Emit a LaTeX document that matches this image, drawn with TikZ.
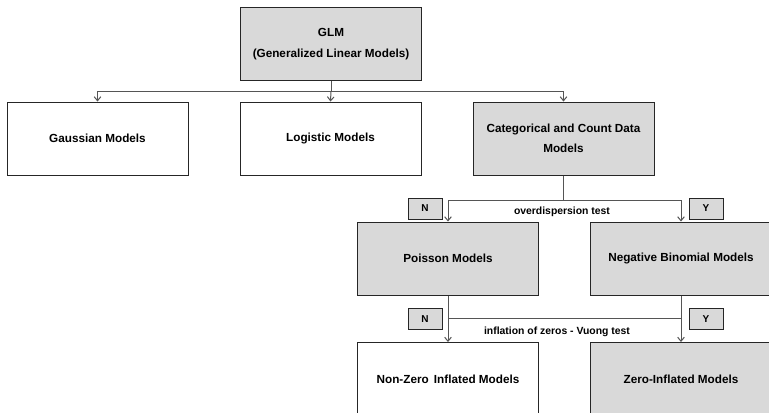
\documentclass[tikz,border=0pt]{standalone}
\usepackage{fontspec}
\setmainfont{Liberation Sans}
\usetikzlibrary{arrows.meta}
\definecolor{boxgray}{HTML}{D9D9D9}
\definecolor{linegray}{HTML}{555555}
\tikzset{
  base/.style={draw=black!85, line width=0.75pt, align=center, inner sep=0pt,
    font=\fontsize{8.8}{16}\selectfont\bfseries},
  bigbox/.style={base, minimum width=135.75pt, minimum height=54.75pt},
  whitebox/.style={bigbox, fill=white},
  graybox/.style={bigbox, fill=boxgray},
  tag/.style={base, fill=boxgray, minimum width=25.5pt, minimum height=15.75pt, font=\fontsize{7.5}{8}\selectfont\bfseries},
  conn/.style={draw=linegray, line width=0.75pt},
  arr/.style={conn, -{Straight Barb[length=3pt,width=5pt]}},
  lbl/.style={font=\fontsize{7.8}{9}\selectfont\bfseries, inner sep=1pt}
}
\begin{document}
\begin{tikzpicture}[x=0.75pt,y=-0.75pt]
\useasboundingbox (0,0) rectangle (769,412);
\clip (0,0) rectangle (769,412);
\node[graybox] (glm) at (331,44) {GLM\\(Generalized Linear Models)};
\node[whitebox] (gauss) at (97.5,138.5) {Gaussian Models};
\node[whitebox] (logit) at (330.5,138.5) {Logistic Models};
\node[graybox, font=\fontsize{8.8}{15}\selectfont\bfseries] (cat) at (563.5,138.5) {Categorical and Count Data\\Models};
\node[graybox] (pois) at (448,258.5) {Poisson Models};
\node[graybox] (negbin) at (681,258.5) {Negative Binomial Models};
\node[whitebox] (nonzero) at (448,379) {Non-Zero\, Inflated Models};
\node[graybox] (zero) at (681,379) {Zero-Inflated Models};
\node[tag] (n1) at (425,208.5) {N};
\node[tag] (y1) at (706,208.5) {Y};
\node[tag] (n2) at (425,319) {N};
\node[tag] (y2) at (706,319) {Y};
\node[lbl] (od) at (562,212) {overdispersion test};
\node[lbl] (vu) at (557,332) {inflation of zeros - Vuong test};
\coordinate (j1) at (331,91);
\coordinate (j2) at (563.5,200);
\coordinate (j3) at (448,318);
\coordinate (j4) at (681,318);
\draw[conn] (glm.south) -- (j1);
\draw[arr] (j1) -| (gauss.north);
\draw[arr] (j1) -- (logit.north);
\draw[arr] (j1) -| (cat.north);
\draw[conn] (cat.south) -- (j2);
\draw[arr] (j2) -| (pois.north);
\draw[arr] (j2) -| (negbin.north);
\draw[arr] (pois.south) -- (nonzero.north);
\draw[arr] (negbin.south) -- (zero.north);
\draw[conn] (j3) -- (j4);
\end{tikzpicture}
\end{document}
